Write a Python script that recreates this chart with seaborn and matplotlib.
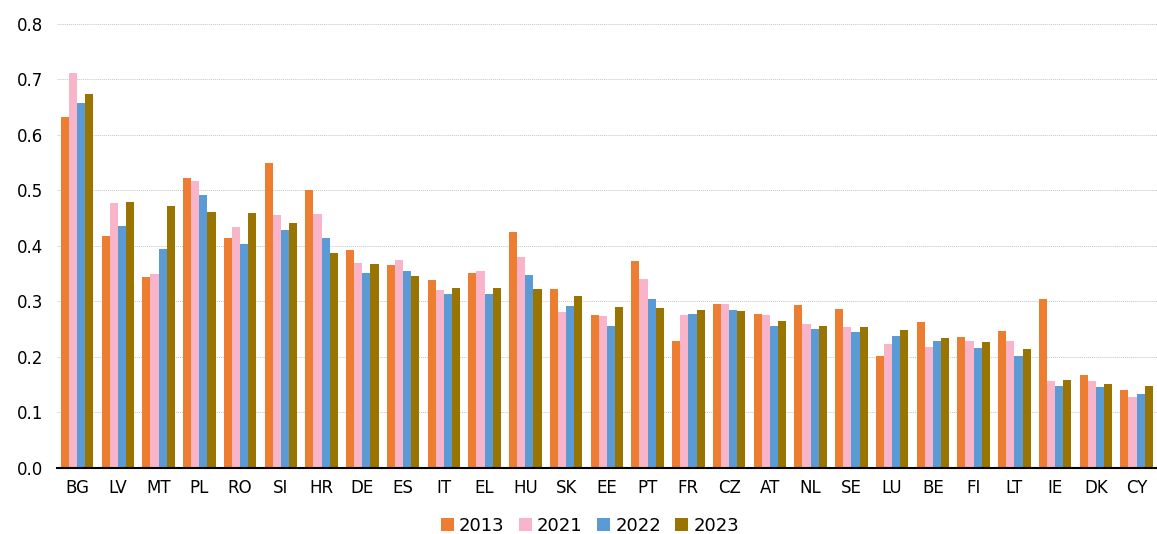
import numpy as np
import pandas as pd
import matplotlib
matplotlib.use("Agg")
import matplotlib.pyplot as plt
import seaborn as sns

countries = ["BG", "LV", "MT", "PL", "RO", "SI", "HR", "DE", "ES", "IT", "EL", "HU", "SK", "EE",
             "PT", "FR", "CZ", "AT", "NL", "SE", "LU", "BE", "FI", "LT", "IE", "DK", "CY"]
v2013 = [0.632, 0.417, 0.344, 0.523, 0.415, 0.549, 0.500, 0.393, 0.365, 0.338, 0.351, 0.425, 0.322, 0.275,
         0.373, 0.228, 0.295, 0.277, 0.294, 0.286, 0.201, 0.263, 0.236, 0.247, 0.305, 0.168, 0.140]
v2021 = [0.711, 0.477, 0.350, 0.517, 0.434, 0.455, 0.458, 0.369, 0.375, 0.321, 0.355, 0.380, 0.280, 0.274,
         0.341, 0.275, 0.295, 0.275, 0.259, 0.253, 0.224, 0.218, 0.229, 0.229, 0.156, 0.157, 0.128]
v2022 = [0.658, 0.435, 0.394, 0.492, 0.403, 0.428, 0.414, 0.351, 0.354, 0.313, 0.313, 0.347, 0.292, 0.256,
         0.305, 0.278, 0.285, 0.256, 0.251, 0.245, 0.238, 0.229, 0.216, 0.202, 0.147, 0.145, 0.133]
v2023 = [0.674, 0.479, 0.472, 0.461, 0.459, 0.442, 0.388, 0.368, 0.345, 0.325, 0.324, 0.323, 0.310, 0.289,
         0.288, 0.285, 0.282, 0.264, 0.255, 0.253, 0.249, 0.234, 0.226, 0.214, 0.159, 0.151, 0.147]
years = ["2013", "2021", "2022", "2023"]
colors = ["#ED7D31", "#F8B4C8", "#5B9BD5", "#9A7400"]

rows = []
for y, vals in zip(years, [v2013, v2021, v2022, v2023]):
    for c, v in zip(countries, vals):
        rows.append({"country": c, "year": y, "value": v})
df = pd.DataFrame(rows)

sns.set_style("white")
plt.rcParams['font.family'] = ['DejaVu Sans']
plt.rcParams['text.color'] = 'black'
plt.rcParams['xtick.color'] = 'black'
plt.rcParams['ytick.color'] = 'black'

fig = plt.figure(figsize=(11.57, 5.34), dpi=100)
ax = fig.add_axes([0.049, 0.124, 0.951, 0.831])

sns.barplot(data=df, x="country", y="value", hue="year", order=countries, hue_order=years,
            palette=colors, width=0.8, linewidth=0, saturation=1, ax=ax, errorbar=None)

ax.set_ylim(0, 0.8)
ax.set_xlim(-0.5, len(countries) - 0.5)
ax.set_yticks(np.arange(0, 0.81, 0.1))
ax.set_yticklabels([f"{t:.1f}" for t in np.arange(0, 0.81, 0.1)], fontsize=12)
ax.yaxis.grid(True, linestyle=(0, (1, 1)), color="#c4c4c4", linewidth=0.7)
ax.set_axisbelow(True)
ax.tick_params(axis="y", length=0, pad=10, labelcolor="black")
ax.tick_params(axis="x", which="major", length=0, labelsize=12, pad=8, labelcolor="black")
ax.set_xticks(np.arange(-0.5, len(countries), 1), minor=True)
ax.tick_params(axis="x", which="minor", length=6, width=1.5, color="black", direction="out")
for s in ["top", "right", "left"]:
    ax.spines[s].set_visible(False)
ax.spines["bottom"].set_color("black")
ax.spines["bottom"].set_linewidth(1.5)
ax.set_xlabel("")
ax.set_ylabel("")

handles, labels = ax.get_legend_handles_labels()
ax.legend_.remove()
fig.legend(handles, labels, loc="center", bbox_to_anchor=(0.51, 0.015), ncol=4, frameon=False,
           handlelength=0.7, handleheight=0.7, handletextpad=0.3, columnspacing=0.8,
           prop={"size": 13, "weight": "medium"}, labelcolor="black")

fig.savefig("out.png", dpi=100)
